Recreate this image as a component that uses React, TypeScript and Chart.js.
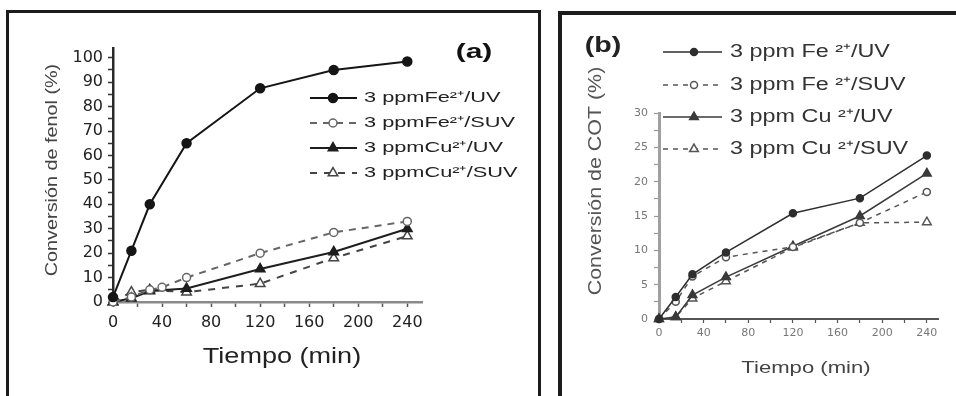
import React, { useEffect, useRef } from 'react';
import { Chart, registerables } from 'chart.js';

Chart.register(...registerables);

// ---------- Panel (a): Conversión de fenol ----------
const seriesLabelsA = ['3 ppmFe²⁺/UV', '3 ppmFe²⁺/SUV', '3 ppmCu²⁺/UV', '3 ppmCu²⁺/SUV'];
const timeFeUVA = [0, 15, 30, 60, 120, 180, 240];
const feUVA = [2, 21, 40, 65, 87.5, 95, 98.5];
const timeFeSUVA = [0, 15, 30, 40, 60, 120, 180, 240];
const feSUVA = [0, 2, 5, 6, 10, 20, 28.5, 33];
const timeCuUVA = [0, 15, 30, 60, 120, 180, 240];
const cuUVA = [0, 1.5, 4.5, 5.5, 13.5, 20.5, 30];
const timeCuSUVA = [0, 15, 30, 60, 120, 180, 240];
const cuSUVA = [0, 4, 5, 4, 7.5, 18, 27];
const xTickLabelsA = ['0', '40', '80', '120', '160', '200', '240'];
const yTickLabelsA = ['0', '10', '20', '30', '40', '50', '60', '70', '80', '90', '100'];
const panelLabelA = '(a)';
const xTitleA = 'Tiempo (min)';
const yTitleA = 'Conversión de fenol (%)';

// ---------- Panel (b): Conversión de COT ----------
const seriesLabelsB = ['3 ppm Fe ²⁺/UV', '3 ppm Fe ²⁺/SUV', '3 ppm Cu ²⁺/UV', '3 ppm Cu ²⁺/SUV'];
const timeB = [0, 15, 30, 60, 120, 180, 240];
const feUVB = [0, 3.2, 6.5, 9.7, 15.4, 17.6, 23.8];
const feSUVB = [0, 2.5, 6.2, 9, 10.5, 14, 18.5];
const cuUVB = [0, 0.3, 3.5, 6.1, 10.6, 15, 21.2];
const cuSUVB = [0, 0.3, 3, 5.5, 10.4, 14, 14.1];
const xTickLabelsB = ['0', '40', '80', '120', '160', '200', '240'];
const yTickLabelsB = ['0', '5', '10', '15', '20', '25', '30'];
const panelLabelB = '(b)';
const xTitleB = 'Tiempo (min)';
const yTitleB = 'Conversión de COT (%)';

const pts = (xs: number[], ys: number[]) => xs.map((x, i) => ({ x, y: ys[i] }));

function drawMarker(ctx: CanvasRenderingContext2D, style: string, x: number, y: number, r: number, fill: string, stroke: string, bw: number) {
  ctx.beginPath();
  if (style === 'triangle') {
    let rad = 0;
    for (let k = 0; k < 3; k++) {
      const px = x + Math.sin(rad) * r;
      const py = y - Math.cos(rad) * r;
      if (k === 0) ctx.moveTo(px, py);
      else ctx.lineTo(px, py);
      rad += (2 * Math.PI) / 3;
    }
    ctx.closePath();
  } else {
    ctx.arc(x, y, r, 0, Math.PI * 2);
  }
  ctx.fillStyle = fill;
  ctx.fill();
  ctx.lineWidth = bw;
  ctx.strokeStyle = stroke;
  ctx.stroke();
}

const overlayPlugin = {
  id: 'overlay',
  afterDraw(chart: any, _args: any, opts: any) {
    const ctx: CanvasRenderingContext2D = chart.ctx;
    ctx.save();
    for (const t of opts.texts || []) {
      ctx.save();
      ctx.translate(t.x, t.y);
      if (t.rot) ctx.rotate(t.rot);
      ctx.scale(t.sx || 1, 1);
      ctx.font = t.font;
      ctx.fillStyle = t.color;
      ctx.textAlign = 'center';
      ctx.textBaseline = 'middle';
      ctx.fillText(t.text, 0, 0);
      ctx.restore();
    }
    const lg = opts.legend;
    if (lg) {
      chart.data.datasets.forEach((ds: any, i: number) => {
        const y = lg.rows[i];
        ctx.save();
        ctx.strokeStyle = ds.borderColor;
        ctx.lineWidth = ds.borderWidth;
        ctx.setLineDash(ds.borderDash || []);
        ctx.beginPath();
        ctx.moveTo(lg.x0, y);
        ctx.lineTo(lg.x1, y);
        ctx.stroke();
        ctx.setLineDash([]);
        drawMarker(ctx, ds.pointStyle, lg.mx, y, ds.pointRadius, ds.pointBackgroundColor, ds.pointBorderColor, ds.pointBorderWidth);
        ctx.translate(lg.tx, y);
        ctx.scale(lg.sx, 1);
        ctx.font = lg.font;
        ctx.fillStyle = lg.color;
        ctx.textAlign = 'left';
        ctx.textBaseline = 'middle';
        ctx.fillText(ds.label, 0, 0);
        ctx.restore();
      });
    }
    ctx.restore();
  },
};

function makeDataset(label: string, data: any[], color: string, dashed: boolean, style: string, filled: boolean, r: number, lw: number, dash: number[]) {
  return {
    label,
    data,
    borderColor: color,
    borderWidth: lw,
    borderDash: dashed ? dash : [],
    pointStyle: style,
    pointRadius: r,
    pointBackgroundColor: filled ? color : '#ffffff',
    pointBorderColor: color,
    pointBorderWidth: 1.5,
    tension: 0,
    fill: false,
    clip: false,
  };
}

function configA() {
  const tickFont = { family: 'DejaVu Sans', size: 16 };
  return {
    type: 'line',
    data: {
      datasets: [
        makeDataset(seriesLabelsA[0], pts(timeFeUVA, feUVA), '#151515', false, 'circle', true, 4.5, 2, []),
        makeDataset(seriesLabelsA[1], pts(timeFeSUVA, feSUVA), '#666666', true, 'circle', false, 4, 2, [7, 6]),
        makeDataset(seriesLabelsA[2], pts(timeCuUVA, cuUVA), '#1e1e1e', false, 'triangle', true, 5.5, 2, []),
        makeDataset(seriesLabelsA[3], pts(timeCuSUVA, cuSUVA), '#444444', true, 'triangle', false, 5.5, 2, [7, 7]),
      ],
    },
    options: {
      animation: false,
      responsive: false,
      events: [],
      layout: { padding: { left: 0, top: 35, right: 115, bottom: 0 } },
      plugins: {
        legend: { display: false },
        tooltip: { enabled: false },
        overlay: {
          texts: [
            { text: panelLabelA, x: 465, y: 39, font: 'bold 20px "Liberation Sans"', color: '#111', sx: 1.5 },
            { text: xTitleA, x: 273, y: 344, font: '22px "Liberation Sans"', color: '#222', sx: 1.23 },
            { text: yTitleA, x: 43, y: 157, font: '16.5px "Liberation Sans"', color: '#444', sx: 1.2, rot: -Math.PI / 2 },
          ],
          legend: { rows: [85, 110, 135, 160], x0: 301, x1: 348, mx: 324, tx: 355, font: '15px "Liberation Sans"', sx: 1.45, color: '#222' },
        },
      },
      scales: {
        x: {
          type: 'linear',
          min: 0,
          max: 252,
          afterFit: (s: any) => { s.height = 94; },
          ticks: {
            stepSize: 20,
            includeBounds: false,
            autoSkip: false,
            maxRotation: 0,
            font: tickFont,
            color: '#222',
            padding: 6,
            callback: (v: any) => (xTickLabelsA.includes(String(v)) ? String(v) : ''),
          },
          grid: { drawOnChartArea: false, drawTicks: true, tickLength: 5, color: '#555', tickWidth: 1.5 },
          border: { display: true, color: '#8a8a8a', width: 2.5 },
        },
        y: {
          type: 'linear',
          min: 0,
          max: 104,
          afterFit: (s: any) => { s.width = 104; },
          ticks: {
            stepSize: 5,
            includeBounds: false,
            autoSkip: false,
            font: tickFont,
            color: '#222',
            padding: 5,
            callback: (v: any) => (yTickLabelsA.includes(String(v)) ? String(v) : ''),
          },
          grid: { drawOnChartArea: false, drawTicks: true, tickLength: 5, color: '#333', tickWidth: 1.5 },
          border: { display: true, color: '#2a2a2a', width: 2.5 },
        },
      },
    },
    plugins: [overlayPlugin],
  };
}

function configB() {
  const tickFont = { family: 'DejaVu Sans', size: 11 };
  const dsB = [
    makeDataset(seriesLabelsB[0], pts(timeB, feUVB), '#2e2e2e', false, 'circle', true, 3.5, 1.5, []),
    makeDataset(seriesLabelsB[1], pts(timeB, feSUVB), '#555555', true, 'circle', false, 3.5, 1.5, [5, 5]),
    makeDataset(seriesLabelsB[2], pts(timeB, cuUVB), '#3a3a3a', false, 'triangle', true, 5, 1.5, []),
    makeDataset(seriesLabelsB[3], pts(timeB, cuSUVB), '#555555', true, 'triangle', false, 5, 1.5, [5, 5]),
  ];
  return {
    type: 'line',
    data: { datasets: dsB },
    options: {
      animation: false,
      responsive: false,
      events: [],
      layout: { padding: { left: 0, top: 98, right: 18, bottom: 0 } },
      plugins: {
        legend: { display: false },
        tooltip: { enabled: false },
        overlay: {
          texts: [
            { text: panelLabelB, x: 41, y: 31, font: 'bold 22px "Liberation Sans"', color: '#222', sx: 1.3 },
            { text: xTitleB, x: 244, y: 353, font: '17px "Liberation Sans"', color: '#444', sx: 1.3 },
            { text: yTitleB, x: 34, y: 166, font: '18px "Liberation Sans"', color: '#555', sx: 1.19, rot: -Math.PI / 2 },
          ],
          legend: { rows: [37, 70, 102, 134], x0: 101, x1: 160, mx: 132, tx: 168, font: '18px "Liberation Sans"', sx: 1.3, color: '#333' },
        },
      },
      scales: {
        x: {
          type: 'linear',
          min: 0,
          max: 250,
          afterFit: (s: any) => { s.height = 77; },
          ticks: {
            stepSize: 20,
            includeBounds: false,
            autoSkip: false,
            maxRotation: 0,
            font: tickFont,
            color: '#777',
            padding: 4,
            callback: (v: any) => (xTickLabelsB.includes(String(v)) ? String(v) : ''),
          },
          grid: { drawOnChartArea: false, drawTicks: true, tickLength: 4, color: '#555', tickWidth: 1.2 },
          border: { display: true, color: '#555', width: 2 },
        },
        y: {
          type: 'linear',
          min: 0,
          max: 30,
          afterFit: (s: any) => { s.width = 97; },
          ticks: {
            stepSize: 2.5,
            includeBounds: false,
            autoSkip: false,
            font: tickFont,
            color: '#777',
            padding: 6,
            callback: (v: any) => (yTickLabelsB.includes(String(v)) ? String(v) : ''),
          },
          grid: { drawOnChartArea: false, drawTicks: true, tickLength: 5, color: '#999', tickWidth: 1.2 },
          border: { display: true, color: '#a0a0a0', width: 3 },
        },
      },
    },
    plugins: [overlayPlugin],
  };
}

function ChartCanvas({ make, left, top, width, height }: { make: () => any; left: number; top: number; width: number; height: number }) {
  const ref = useRef<HTMLCanvasElement>(null);
  useEffect(() => {
    const chart = new Chart(ref.current as HTMLCanvasElement, make());
    return () => chart.destroy();
  }, []);
  return (
    <canvas
      ref={ref}
      width={width}
      height={height}
      style={{ position: 'absolute', left, top, width, height, display: 'block' }}
    />
  );
}

export default function App() {
  return (
    <div style={{ position: 'absolute', left: 0, top: 0, width: 956, height: 396, overflow: 'hidden', background: '#fff' }}>
      <div style={{ position: 'absolute', left: 6, top: 10, width: 535, height: 420, border: '3px solid #1c1c1c', boxSizing: 'border-box' }} />
      <div style={{ position: 'absolute', left: 558, top: 11, width: 500, height: 420, border: '4px solid #1c1c1c', boxSizing: 'border-box' }} />
      <ChartCanvas make={configA} left={9} top={13} width={528} height={383} />
      <ChartCanvas make={configB} left={562} top={15} width={394} height={381} />
    </div>
  );
}
